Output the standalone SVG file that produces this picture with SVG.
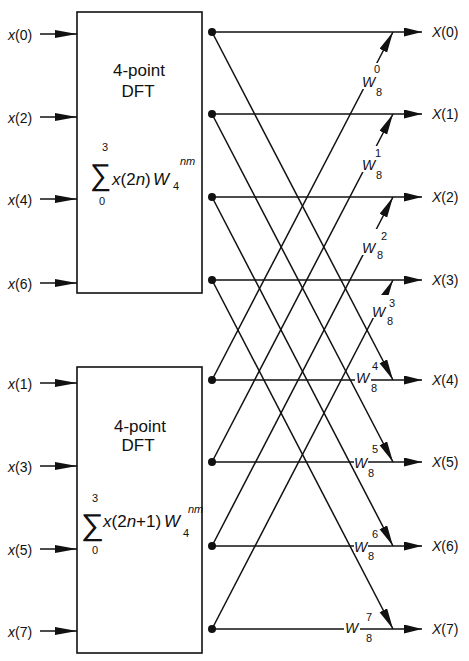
<svg xmlns="http://www.w3.org/2000/svg" width="469" height="661" viewBox="0 0 469 661">
<style>
text{font-family:"Liberation Sans",Arial,sans-serif;fill:#111}
.box{fill:#fff;stroke:#111;stroke-width:1.6}
.ln{stroke:#111;stroke-width:1.5;fill:none}
.in{marker-end:url(#ain)}
.out{marker-end:url(#aout)}
.dg{marker-end:url(#adg)}
.dot{fill:#111}
.lbl{font-size:14px}
.bt{font-size:17px;text-anchor:middle}
.f{font-size:17px}
.s{font-size:11px}
.sig{font-family:"DejaVu Sans",sans-serif;font-size:30px;font-weight:200}
.w{font-size:14px;font-style:italic}
.i{font-style:italic}
.bg{fill:#fff}
</style>
<defs>
<marker id="ain" markerUnits="userSpaceOnUse" markerWidth="22" markerHeight="9" refX="22" refY="4" orient="auto"><path d="M0,0 L22,4 L0,8 z" fill="#111"/></marker>
<marker id="aout" markerUnits="userSpaceOnUse" markerWidth="18" markerHeight="10" refX="18" refY="4.5" orient="auto"><path d="M0,0 L18,4.5 L0,9 z" fill="#111"/></marker>
<marker id="adg" markerUnits="userSpaceOnUse" markerWidth="21" markerHeight="9" refX="21" refY="4.25" orient="auto"><path d="M0,0 L21,4.25 L0,8.5 z" fill="#111"/></marker>
</defs>

<g id="dft-even">
<rect class="box" x="77" y="12" width="125" height="281"/>
<text class="bt" x="139" y="76">4-point</text>
<text class="bt" x="138" y="97">DFT</text>
<text class="sig" x="90" y="185">∑</text>
<text class="s" x="102" y="151">3</text>
<text class="s" x="99" y="205">0</text>
<text class="f" x="112" y="185"><tspan class="i">x</tspan>(2<tspan class="i">n</tspan>)</text>
<text class="f i" x="153" y="185">W</text>
<text class="s i" x="180" y="165">nm</text>
<text class="s" x="173" y="190">4</text>
</g>

<g id="dft-odd">
<rect class="box" x="77" y="367" width="125" height="286"/>
<text class="bt" x="140" y="432">4-point</text>
<text class="bt" x="138" y="451">DFT</text>
<text class="sig" transform="translate(81,535) scale(1.08,1)">∑</text>
<text class="s" x="92" y="502">3</text>
<text class="s" x="92" y="554">0</text>
<text class="f" x="103" y="527"><tspan class="i">x</tspan>(2<tspan class="i">n</tspan>+1)</text>
<text class="f i" x="164" y="527">W</text>
<text class="s i" x="188" y="513">nm</text>
<text class="s" x="183" y="537">4</text>
</g>

<g id="inputs">
<text class="lbl" x="8" y="40"><tspan class="i">x</tspan>(0)</text>
<text class="lbl" x="8" y="123"><tspan class="i">x</tspan>(2)</text>
<text class="lbl" x="8" y="205"><tspan class="i">x</tspan>(4)</text>
<text class="lbl" x="8" y="289"><tspan class="i">x</tspan>(6)</text>
<text class="lbl" x="8" y="389"><tspan class="i">x</tspan>(1)</text>
<text class="lbl" x="8" y="472"><tspan class="i">x</tspan>(3)</text>
<text class="lbl" x="8" y="555"><tspan class="i">x</tspan>(5)</text>
<text class="lbl" x="8" y="637"><tspan class="i">x</tspan>(7)</text>
</g>

<g id="outputs">
<text class="lbl" x="432" y="37"><tspan class="i">X</tspan>(0)</text>
<text class="lbl" x="432" y="119"><tspan class="i">X</tspan>(1)</text>
<text class="lbl" x="432" y="202"><tspan class="i">X</tspan>(2)</text>
<text class="lbl" x="432" y="285"><tspan class="i">X</tspan>(3)</text>
<text class="lbl" x="432" y="385"><tspan class="i">X</tspan>(4)</text>
<text class="lbl" x="432" y="467"><tspan class="i">X</tspan>(5)</text>
<text class="lbl" x="432" y="551"><tspan class="i">X</tspan>(6)</text>
<text class="lbl" x="432" y="634"><tspan class="i">X</tspan>(7)</text>
</g>

<g id="connectors">
<line class="ln in" x1="40" y1="34" x2="77" y2="34"/>
<line class="ln in" x1="40" y1="117" x2="77" y2="117"/>
<line class="ln in" x1="40" y1="199" x2="77" y2="199"/>
<line class="ln in" x1="40" y1="283" x2="77" y2="283"/>
<line class="ln in" x1="40" y1="383" x2="77" y2="383"/>
<line class="ln in" x1="40" y1="466" x2="77" y2="466"/>
<line class="ln in" x1="40" y1="549" x2="77" y2="549"/>
<line class="ln in" x1="40" y1="631" x2="77" y2="631"/>

<line class="ln out" x1="212" y1="32" x2="422" y2="32"/>
<line class="ln out" x1="212" y1="114" x2="422" y2="114"/>
<line class="ln out" x1="212" y1="197" x2="422" y2="197"/>
<line class="ln out" x1="212" y1="280" x2="422" y2="280"/>
<line class="ln out" x1="212" y1="380" x2="422" y2="380"/>
<line class="ln out" x1="212" y1="462" x2="422" y2="462"/>
<line class="ln out" x1="212" y1="546" x2="422" y2="546"/>
<line class="ln out" x1="212" y1="629" x2="422" y2="629"/>

<line class="ln dg" x1="212" y1="32" x2="393" y2="380"/>
<line class="ln dg" x1="212" y1="114" x2="393" y2="462"/>
<line class="ln dg" x1="212" y1="197" x2="393" y2="546"/>
<line class="ln dg" x1="212" y1="280" x2="393" y2="629"/>
<line class="ln dg" x1="212" y1="380" x2="393" y2="32"/>
<line class="ln dg" x1="212" y1="462" x2="393" y2="114"/>
<line class="ln dg" x1="212" y1="546" x2="393" y2="197"/>
<line class="ln dg" x1="212" y1="629" x2="393" y2="280"/>

<circle class="dot" cx="212" cy="32" r="4"/>
<circle class="dot" cx="212" cy="114" r="4"/>
<circle class="dot" cx="212" cy="197" r="4"/>
<circle class="dot" cx="212" cy="280" r="4"/>
<circle class="dot" cx="212" cy="380" r="4"/>
<circle class="dot" cx="212" cy="462" r="4"/>
<circle class="dot" cx="212" cy="546" r="4"/>
<circle class="dot" cx="212" cy="629" r="4"/>
</g>

<g id="twiddles">
<rect class="bg" x="360" y="63" width="20" height="26"/>
<rect class="bg" x="360" y="146" width="20" height="26"/>
<rect class="bg" x="360" y="229" width="26" height="26"/>
<rect class="bg" x="370" y="295" width="24" height="23"/>
<rect class="bg" x="355" y="371" width="16" height="13"/>
<rect class="bg" x="354" y="456" width="14" height="13"/>
<rect class="bg" x="354" y="540" width="14" height="13"/>
<rect class="bg" x="344" y="621" width="16" height="13"/>

<text class="w" x="362" y="87">W</text><text class="s" x="374" y="73">0</text><text class="s" x="376" y="96">8</text>
<text class="w" x="362" y="170">W</text><text class="s" x="375" y="157">1</text><text class="s" x="376" y="179">8</text>
<text class="w" x="362" y="253">W</text><text class="s" x="381" y="240">2</text><text class="s" x="377" y="259">8</text>
<text class="w" x="372" y="317">W</text><text class="s" x="389" y="307">3</text><text class="s" x="387" y="325">8</text>
<text class="w" x="356" y="383">W</text><text class="s" x="372" y="370">4</text><text class="s" x="371" y="392">8</text>
<text class="w" x="354" y="468">W</text><text class="s" x="372" y="453">5</text><text class="s" x="368" y="477">8</text>
<text class="w" x="354" y="552">W</text><text class="s" x="372" y="538">6</text><text class="s" x="368" y="560">8</text>
<text class="w" x="345" y="633">W</text><text class="s" x="366" y="621">7</text><text class="s" x="366" y="642">8</text>
</g>
</svg>
